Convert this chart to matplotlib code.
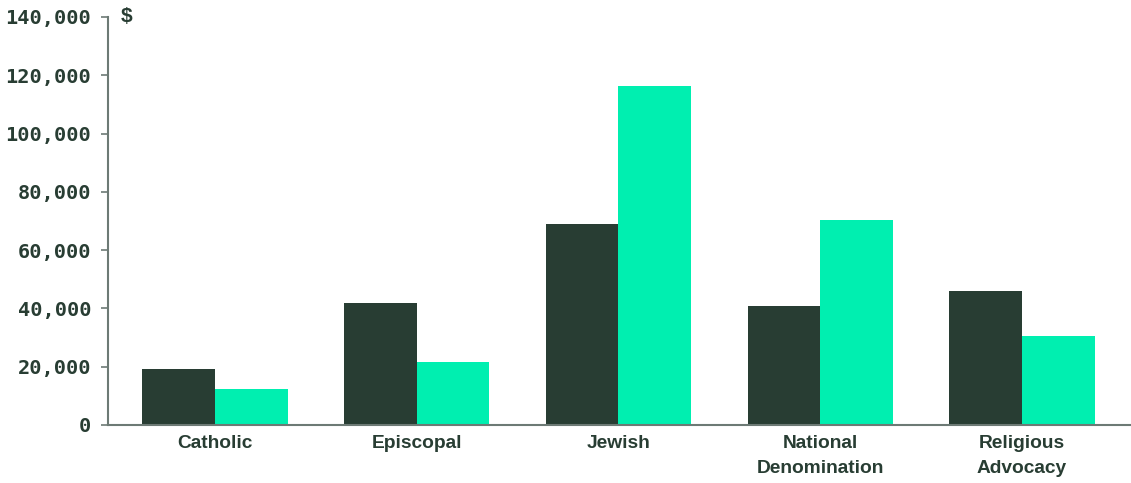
import numpy as np
import matplotlib
matplotlib.use("Agg")
import matplotlib.pyplot as plt

# dados
categorias = ["Catholic", "Episcopal", "Jewish", "National\nDenomination", "Religious\nAdvocacy"]
serie_escura = [19200, 41800, 68800, 41000, 46100]
serie_clara = [12200, 21500, 116200, 70200, 30400]
yticks = [0, 20000, 40000, 60000, 80000, 100000, 120000, 140000]

COR_ESCURA = "#283d33"
COR_CLARA = "#00efb0"
COR_EIXO = "#6d7a75"

fig = plt.figure(figsize=(11.31, 4.83), dpi=100)
ax = fig.add_axes([108 / 1131, 58 / 483, 1 - 108 / 1131, 408 / 483])

x = np.arange(len(categorias))
w = 0.36
ax.bar(x - w / 2, serie_escura, width=w, color=COR_ESCURA, zorder=2)
ax.bar(x + w / 2, serie_clara, width=w, color=COR_CLARA, zorder=2)

ax.set_xlim(-0.53, 4.54)
ax.set_ylim(0, 140000)
ax.set_yticks(yticks)
ax.set_yticklabels([f"{v:,}" for v in yticks], fontfamily="DejaVu Sans Mono",
                   fontweight="bold", fontsize=14.6, color=COR_ESCURA)
ax.set_xticks(x)
ax.set_xticklabels(categorias, fontfamily="Liberation Sans", fontweight="bold",
                   fontsize=13.8, color=COR_ESCURA, linespacing=1.65)

for s in ["top", "right"]:
    ax.spines[s].set_visible(False)
for s in ["left", "bottom"]:
    ax.spines[s].set_color(COR_EIXO)
    ax.spines[s].set_linewidth(1.5)
    ax.spines[s].set_zorder(3)

ax.tick_params(axis="y", length=5, width=1.2, color=COR_EIXO, pad=7)
ax.tick_params(axis="x", length=0, pad=7)

ax.text(0.012, 140000, "$", transform=ax.get_yaxis_transform(), ha="left", va="center",
        fontfamily="Liberation Sans", fontweight="bold", fontsize=15, color=COR_ESCURA)

plt.savefig("out.png", dpi=100)
plt.close()
